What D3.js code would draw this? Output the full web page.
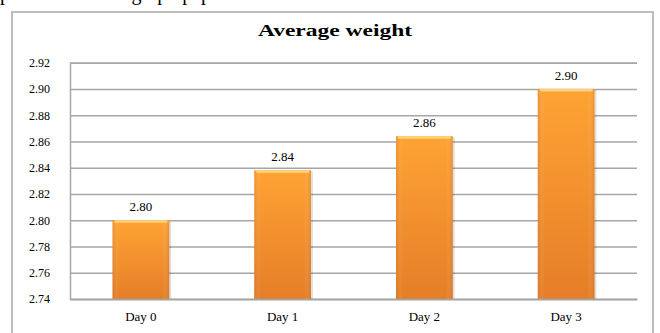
<!DOCTYPE html>
<html>
<head>
<meta charset="utf-8">
<script src="https://d3js.org/d3.v7.min.js"></script>
<style>
  body { margin: 0; background: #fff; }
  svg { display: block; }
  svg text { font-family: "Liberation Serif", "Times New Roman", "DejaVu Serif", serif; }
</style>
</head>
<body>
<div id="chart"></div>
<script>
// chart data
var days = ["Day 0", "Day 1", "Day 2", "Day 3"];
var weights = [2.80, 2.838, 2.864, 2.90];
var weightLabels = ["2.80", "2.84", "2.86", "2.90"];
var yTicks = [2.74, 2.76, 2.78, 2.80, 2.82, 2.84, 2.86, 2.88, 2.90, 2.92];

var width = 660, height = 333;
var svg = d3.select("#chart").append("svg").attr("width", width).attr("height", height);
var serif = "'Liberation Serif', 'Times New Roman', 'DejaVu Serif', serif";

var defs = svg.append("defs");
var grad = defs.append("linearGradient").attr("id", "barv").attr("x1", 0).attr("y1", 0).attr("x2", 0).attr("y2", 1);
grad.append("stop").attr("offset", "0%").attr("stop-color", "#ffa334");
grad.append("stop").attr("offset", "100%").attr("stop-color", "#e57e28");
var gradh = defs.append("linearGradient").attr("id", "barh").attr("x1", 0).attr("y1", 0).attr("x2", 1).attr("y2", 0);
gradh.append("stop").attr("offset", "0%").attr("stop-color", "#b85a10").attr("stop-opacity", 0.25);
gradh.append("stop").attr("offset", "12%").attr("stop-color", "#ffffff").attr("stop-opacity", 0);
gradh.append("stop").attr("offset", "88%").attr("stop-color", "#ffffff").attr("stop-opacity", 0);
gradh.append("stop").attr("offset", "100%").attr("stop-color", "#b85a10").attr("stop-opacity", 0.25);

// text line above the chart, only its descenders show
svg.append("text").attr("x", 0).attr("y", 0)
  .style("font-family", serif).attr("font-size", 20)
  .attr("fill", "#000").text("presented in the graph paper");

// outer frame
svg.append("rect").attr("x", 12).attr("y", 12).attr("width", 641).attr("height", 340)
  .attr("fill", "#fff").attr("stroke", "#bdbdbd").attr("stroke-width", 2);

svg.append("text").attr("x", 335).attr("y", 36).attr("text-anchor", "middle")
  .style("font-family", serif).attr("font-weight", "bold")
  .attr("font-size", 17).attr("textLength", 154).attr("lengthAdjust", "spacingAndGlyphs")
  .text("Average weight");

var plot = { left: 70, right: 637, top: 62.7, bottom: 299 };

var x = d3.scaleBand().domain(days).range([plot.left, plot.right]).paddingInner(0.6).paddingOuter(0.3);
var y = d3.scaleLinear().domain([2.74, 2.92]).range([plot.bottom, plot.top]);

// gridlines
var yAxis = d3.axisLeft(y).tickValues(yTicks).tickFormat(d3.format(".2f"))
  .tickSize(-(plot.right - plot.left)).tickPadding(20);
var gy = svg.append("g").attr("transform", "translate(" + plot.left + ",0)").call(yAxis);
gy.attr("font-family", null);
gy.select(".domain").attr("stroke", "#a6a6a6").attr("stroke-width", 1.5);
gy.selectAll(".tick line").attr("stroke", "#a6a6a6").attr("stroke-width", 1.5);
gy.selectAll(".tick text").style("font-family", serif).attr("font-size", 12).attr("fill", "#000");

// bars
var bars = svg.append("g").selectAll("g").data(weights).join("g");
bars.append("rect")
  .attr("x", function(d, i) { return x(days[i]) + 2; })
  .attr("y", function(d) { return y(d) + 1; })
  .attr("width", x.bandwidth())
  .attr("height", function(d) { return plot.bottom - y(d) - 1; })
  .attr("fill", "#000").attr("opacity", 0.12);
bars.append("rect")
  .attr("x", function(d, i) { return x(days[i]); })
  .attr("y", function(d) { return y(d); })
  .attr("width", x.bandwidth())
  .attr("height", function(d) { return plot.bottom - y(d); })
  .attr("fill", "url(#barv)");
bars.append("rect")
  .attr("x", function(d, i) { return x(days[i]); })
  .attr("y", function(d) { return y(d); })
  .attr("width", x.bandwidth())
  .attr("height", function(d) { return plot.bottom - y(d); })
  .attr("fill", "url(#barh)");
bars.append("rect")
  .attr("x", function(d, i) { return x(days[i]) + 2; })
  .attr("y", function(d) { return y(d); })
  .attr("width", x.bandwidth() - 4)
  .attr("height", 2.5)
  .attr("fill", "#ffd27a");

// value labels
svg.append("g").selectAll("text").data(weights).join("text")
  .attr("x", function(d, i) { return x(days[i]) + x.bandwidth() / 2; })
  .attr("y", function(d) { return y(d) - 9; })
  .attr("text-anchor", "middle")
  .style("font-family", serif).attr("font-size", 13)
  .text(function(d, i) { return weightLabels[i]; });

// x axis labels
var xAxis = d3.axisBottom(x).tickSize(0).tickPadding(13);
var gx = svg.append("g").attr("transform", "translate(0," + plot.bottom + ")").call(xAxis);
gx.attr("font-family", null);
gx.select(".domain").attr("stroke", "#a6a6a6").attr("stroke-width", 1.5);
gx.selectAll(".tick text").style("font-family", serif).attr("font-size", 13).attr("fill", "#000");
</script>
</body>
</html>
